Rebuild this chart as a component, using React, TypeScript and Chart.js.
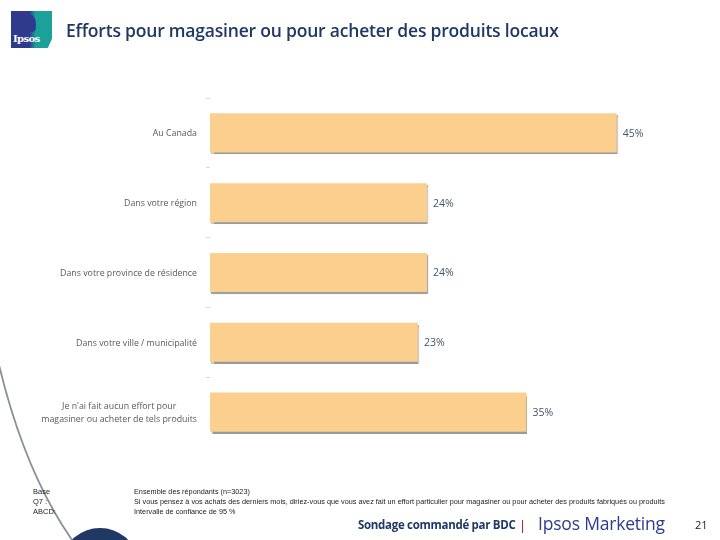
import React, { useEffect, useRef } from "react";
import { Chart, registerables } from "chart.js";

Chart.register(...registerables);

const categories: (string | string[])[] = [
  "Au Canada",
  "Dans votre région",
  "Dans votre province de résidence",
  "Dans votre ville / municipalité",
  ["Je n'ai fait aucun effort pour", "magasiner ou acheter de tels produits"],
];
const values: number[] = [45, 24, 24, 23, 35];
const valueLabels: string[] = ["45%", "24%", "24%", "23%", "35%"];

const title = "Efforts pour magasiner ou pour acheter des produits locaux";
const footLeft = ["Base", "Q7 :", "ABCD:"];
const footRight = [
  "Ensemble des répondants (n=3023)",
  "Si vous pensez à vos achats des derniers mois, diriez-vous que vous avez fait un effort particulier pour magasiner ou pour acheter des produits fabriqués ou produits",
  "Intervalle de confiance de 95 %",
];

const BAR = "#FBCF8E";
const NAVY = "#1F3864";
const LABEL_FONT = "8.8px 'Open Sans', sans-serif";

const barShadow = {
  id: "barShadow",
  beforeDatasetDraw(chart: any) {
    const ctx = chart.ctx;
    ctx.save();
    ctx.shadowColor = "rgba(120,120,120,0.75)";
    ctx.shadowBlur = 1;
    ctx.shadowOffsetX = 1;
    ctx.shadowOffsetY = 2;
  },
  afterDatasetDraw(chart: any) {
    chart.ctx.restore();
  },
};

// Category labels: right-aligned block, multi-line labels centered within their block
const categoryLabelPlugin = {
  id: "categoryLabels",
  afterDraw(chart: any) {
    const ctx = chart.ctx;
    const yScale = chart.scales.y;
    const right = yScale.right - 4 - 9;
    ctx.save();
    ctx.font = LABEL_FONT;
    ctx.fillStyle = "#595959";
    ctx.textBaseline = "middle";
    ctx.textAlign = "center";
    const lh = 13;
    categories.forEach((lab, i) => {
      const lines = Array.isArray(lab) ? lab : [lab];
      const maxW = Math.max(...lines.map((l) => ctx.measureText(l).width));
      const cx = right - maxW / 2;
      const yc = yScale.getPixelForValue(i) + 1;
      lines.forEach((l, j) => {
        ctx.fillText(l, cx, yc + (j - (lines.length - 1) / 2) * lh);
      });
    });
    ctx.restore();
  },
};

const valueLabelPlugin = {
  id: "valueLabels",
  afterDatasetsDraw(chart: any) {
    const ctx = chart.ctx;
    const meta = chart.getDatasetMeta(0);
    ctx.save();
    ctx.font = "10.5px 'Open Sans', sans-serif";
    ctx.fillStyle = "#44546A";
    ctx.textAlign = "left";
    ctx.textBaseline = "middle";
    meta.data.forEach((bar: any, i: number) => {
      ctx.fillText(valueLabels[i], bar.x + 6, bar.y + 1);
    });
    ctx.restore();
  },
};

export default function App() {
  const ref = useRef<HTMLCanvasElement>(null);
  useEffect(() => {
    if (!ref.current) return;
    const chart = new Chart(ref.current, {
      type: "bar",
      data: {
        labels: categories,
        datasets: [
          {
            data: values,
            backgroundColor: BAR,
            borderWidth: 0,
            barPercentage: 0.56,
            categoryPercentage: 1,
          },
        ],
      },
      plugins: [barShadow, valueLabelPlugin, categoryLabelPlugin],
      options: {
        indexAxis: "y",
        animation: false,
        responsive: false,
        maintainAspectRatio: false,
        layout: { padding: { left: 0, right: 58, top: 98, bottom: 93 } },
        plugins: {
          legend: { display: false },
          tooltip: { enabled: false },
        },
        scales: {
          x: { display: false, min: 0, max: 50 },
          y: {
            afterFit(scale: any) {
              scale.width = 210;
            },
            border: { display: false },
            grid: {
              offset: true,
              drawOnChartArea: false,
              drawTicks: true,
              tickLength: 4,
              color: (c: any) => (c.tick ? "#D9D9D9" : "rgba(0,0,0,0)"),
            },
            ticks: {
              padding: 9,
              color: "rgba(0,0,0,0)",
              font: { family: "'Open Sans', sans-serif", size: 8.8 },
            },
          },
        },
      },
    } as any);
    return () => chart.destroy();
  }, []);

  return (
    <div
      style={{
        position: "fixed",
        left: 0,
        top: 0,
        width: 720,
        height: 540,
        background: "#fff",
        overflow: "hidden",
        fontFamily: "'Open Sans', sans-serif",
      }}
    >
      <canvas ref={ref} width={720} height={540} style={{ position: "absolute", left: 0, top: 0 }} />
      {/* logo */}
      <div
        style={{
          position: "absolute",
          left: 11,
          top: 11,
          width: 41,
          height: 37,
          background: "linear-gradient(90deg, #2E3A8C 0%, #2E3A8C 45%, #1BA19A 60%, #1BA19A 100%)",
          clipPath: "polygon(0 0, 100% 0, 100% 75%, 90% 100%, 0 100%)",
        }}
      >
        <div
          style={{
            position: "absolute",
            left: 14,
            top: 4,
            width: 11,
            height: 17,
            borderRadius: "50% 50% 30% 30%",
            background: "#2E3A8C",
          }}
        />
        <div
          style={{
            position: "absolute",
            left: 2,
            top: 22,
            fontFamily: "'DejaVu Serif', serif",
            fontWeight: 700,
            fontSize: 10,
            color: "#fff",
            letterSpacing: -0.6,
          }}
        >
          Ipsos
        </div>
      </div>
      <div
        style={{
          position: "absolute",
          left: 66,
          top: 18,
          fontSize: 17.5,
          fontWeight: 600,
          color: NAVY,
          whiteSpace: "nowrap",
          letterSpacing: -0.2,
        }}
      >
        {title}
      </div>
      {/* decorative arc */}
      <svg width={720} height={540} style={{ position: "absolute", left: 0, top: 0, pointerEvents: "none" }}>
        <path d="M -4 352 Q 22 468 72 540" stroke="#8A8F99" strokeWidth={1.8} fill="none" />
        <ellipse cx={100} cy={560} rx={36} ry={32} fill={NAVY} />
      </svg>
      {/* footnotes */}
      <div style={{ position: "absolute", left: 33, top: 487, fontSize: 7.5, lineHeight: "10px", color: "#222", fontFamily: "'Liberation Sans', sans-serif" }}>
        {footLeft.map((t, i) => (
          <div key={i}>{t}</div>
        ))}
      </div>
      <div
        style={{
          position: "absolute",
          left: 134,
          top: 487,
          fontSize: 7.5,
          lineHeight: "10px",
          color: "#222",
          fontFamily: "'Liberation Sans', sans-serif",
          whiteSpace: "nowrap",
          transform: "scaleX(0.97)",
          transformOrigin: "left top",
        }}
      >
        {footRight.map((t, i) => (
          <div key={i}>{t}</div>
        ))}
      </div>
      <div
        style={{
          position: "absolute",
          left: 358,
          top: 517,
          fontSize: 11.5,
          fontWeight: 700,
          color: NAVY,
          whiteSpace: "nowrap",
          letterSpacing: -0.3,
        }}
      >
        Sondage commandé par BDC
      </div>
      <div style={{ position: "absolute", left: 519, top: 516, fontSize: 13, color: "#C00000" }}>|</div>
      <div
        style={{
          position: "absolute",
          left: 538,
          top: 511,
          fontSize: 17.5,
          color: "#2E3A8C",
          whiteSpace: "nowrap",
          letterSpacing: -0.2,
        }}
      >
        Ipsos Marketing
      </div>
      <div style={{ position: "absolute", left: 695, top: 517, fontSize: 11, color: "#222" }}>21</div>
    </div>
  );
}
